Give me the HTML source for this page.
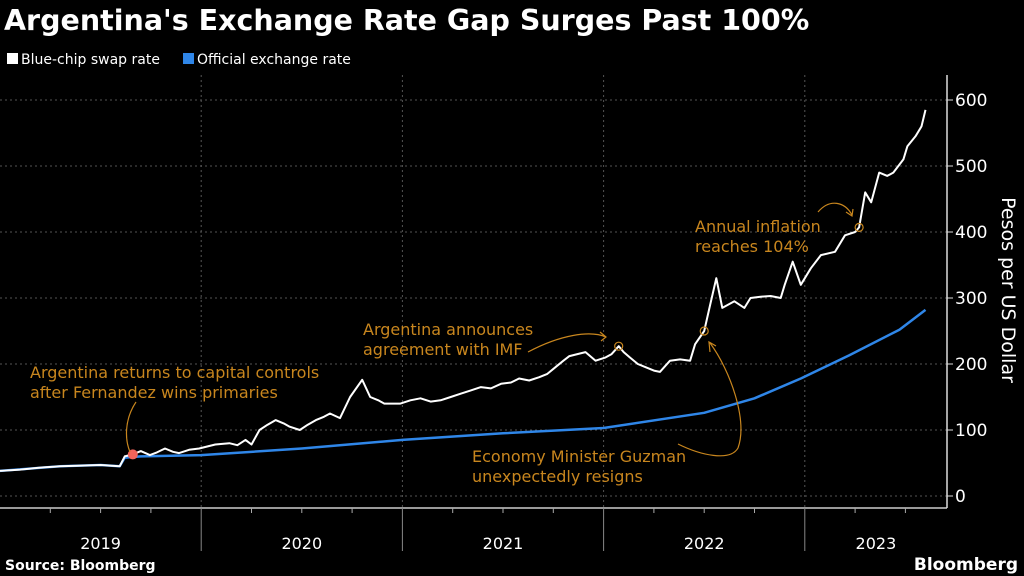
<!DOCTYPE html>
<html><head><meta charset="utf-8"><style>
body{margin:0;background:#000;}
svg{display:block;font-family:"DejaVu Sans","Liberation Sans",sans-serif;}
</style></head><body>
<svg id="chart" width="1024" height="576" viewBox="0 0 1024 576">
<rect width="1024" height="576" fill="#000"/>
<text x="4" y="30" fill="#fff" font-size="28.5" font-weight="bold">Argentina's Exchange Rate Gap Surges Past 100%</text>
<g>
<g><rect x="7" y="53" width="11" height="11" fill="#fff"/><text x="21" y="64" fill="#fff" font-size="14">Blue-chip swap rate</text></g>
<g><rect x="183" y="53" width="11" height="11" fill="#2f86e8"/><text x="197" y="64" fill="#fff" font-size="14">Official exchange rate</text></g>
</g>
<g id="grid"></g>
<g id="xaxis"></g>
<g id="yaxis"></g>
<text transform="translate(1002,290) rotate(90)" text-anchor="middle" fill="#fff" font-size="19">Pesos per US Dollar</text>
<g id="series"></g>
<g fill="#c8861e" font-size="16">
<g><text x="30" y="378">Argentina returns to capital controls</text><text x="30" y="398">after Fernandez wins primaries</text>
<path d="M136,402 C124,420 125,440 130,452" fill="none" stroke="#c8861e" stroke-width="1.2"/></g>
<g><text x="363" y="335">Argentina announces</text><text x="363" y="355">agreement with IMF</text>
<path d="M528,352 C560,335 590,330 606,337 M600,332 L606,337 L601,341" fill="none" stroke="#c8861e" stroke-width="1.2"/></g>
<g><text x="695" y="232">Annual inflation</text><text x="695" y="252">reaches 104%</text>
<path d="M818,212 C830,198 845,202 852,215 M846,212 L852,216 L853,209" fill="none" stroke="#c8861e" stroke-width="1.2"/></g>
<g><text x="472" y="462">Economy Minister Guzman</text><text x="472" y="482">unexpectedly resigns</text>
<path d="M678,444 C700,455 730,462 738,448 C748,420 730,370 710,343 M710,352 L709,342 L716,346" fill="none" stroke="#c8861e" stroke-width="1.2"/></g>
</g>
<text x="5" y="570" fill="#fff" font-size="14" font-weight="bold">Source: Bloomberg</text>
<text x="1018" y="570" text-anchor="end" fill="#fff" font-size="17" font-weight="bold">Bloomberg</text>
</svg>
<script>
const years = ["2019","2020","2021","2022","2023"];
const yTicks = [0,100,200,300,400,500,600];
const blueDates = [2019.0,2019.1,2019.2,2019.3,2019.4,2019.5,2019.595,2019.62,2019.66,2019.7,2019.745,2019.78,2019.82,2019.86,2019.89,2019.94,2019.99,2020.03,2020.07,2020.14,2020.18,2020.22,2020.25,2020.29,2020.33,2020.37,2020.41,2020.44,2020.49,2020.53,2020.57,2020.61,2020.64,2020.69,2020.74,2020.8,2020.84,2020.88,2020.91,2020.99,2021.04,2021.09,2021.14,2021.19,2021.24,2021.29,2021.34,2021.39,2021.44,2021.49,2021.54,2021.58,2021.63,2021.68,2021.72,2021.76,2021.8,2021.83,2021.87,2021.91,
2021.96,2022.01,2022.04,2022.075,2022.1,2022.13,2022.17,2022.21,2022.25,2022.28,2022.33,2022.38,2022.43,2022.455,2022.5,2022.53,2022.56,2022.59,2022.65,2022.70,2022.73,2022.78,2022.83,2022.88,2022.9,2022.94,2022.98,2023.03,2023.08,2023.15,2023.2,2023.25,2023.27,2023.3,2023.33,2023.37,2023.41,2023.44,2023.49,2023.51,2023.55,2023.58,2023.6];
const blueValues = [38,40,43,45,46,47,45,60,63,68,62,66,72,67,65,70,72,75,78,80,77,85,78,100,108,115,110,105,100,108,115,120,125,118,150,176,150,145,140,140,145,148,143,145,150,155,160,165,163,170,172,178,175,180,185,195,205,212,215,218,
205,210,215,227,218,210,200,195,190,188,205,207,205,230,250,290,330,285,295,285,300,302,303,300,320,355,320,345,365,370,395,400,407,460,445,490,485,490,510,530,545,560,585];
const officialDates = [2019.0,2019.3,2019.5,2019.595,2019.62,2019.7,2020.0,2020.5,2021.0,2021.5,2022.0,2022.5,2022.75,2022.98,2023.22,2023.47,2023.6];
const officialValues = [38,45,47,45,58,60,62,72,85,95,103,126,148,178,213,252,282];
const S='http://www.w3.org/2000/svg';
const x=d=>(d-2019)*201.2, y=v=>496-v*0.66;
const grid=document.getElementById('grid'),xa=document.getElementById('xaxis'),ya=document.getElementById('yaxis'),ser=document.getElementById('series');
function mk(tag,attrs,parent){const e=document.createElementNS(S,tag);for(const k in attrs)e.setAttribute(k,attrs[k]);parent.appendChild(e);return e;}
yTicks.forEach(t=>{
 const g=mk('line',{x1:0,x2:947,y1:y(t),y2:y(t),stroke:'#555','stroke-dasharray':'2,3','stroke-width':1},grid);
 
 
 mk('line',{x1:947,x2:953,y1:y(t),y2:y(t),stroke:'#ddd'},ya);
 const tx=mk('text',{x:955,y:y(t)+6,fill:'#fff','font-size':17},ya);tx.textContent=t;
 
 
});
mk('line',{x1:947,x2:947,y1:75,y2:508,stroke:'#ddd','stroke-width':1.5},ya);
mk('line',{x1:0,x2:947,y1:508,y2:508,stroke:'#ccc','stroke-width':1.5},xa);
years.forEach((yr,i)=>{
 const x0=x(2019+i);
 if(i>0){const l=mk('line',{x1:x0,x2:x0,y1:75,y2:508,stroke:'#555','stroke-dasharray':'2,3'},grid);
  
  
  mk('line',{x1:x0,x2:x0,y1:508,y2:551,stroke:'#888'},xa);}
 for(let q=1;q<4;q++){const xq=x(2019+i+q/4);if(xq<947)mk('line',{x1:xq,x2:xq,y1:508,y2:513,stroke:'#aaa'},xa);}
 const c=Math.min(x0+100.6,(x0+947)/2);
 const t=mk('text',{x:c,y:549,fill:'#fff','font-size':16,'text-anchor':'middle'},xa);t.textContent=yr;
 
 
});
function line(ds,vs,col,w,name){
 const p=mk('path',{d:ds.map((d,i)=>(i?'L':'M')+x(d).toFixed(1)+','+y(vs[i]).toFixed(1)).join(''),fill:'none',stroke:col,'stroke-width':w,'stroke-linejoin':'round'},ser);
 
 
}
line(officialDates,officialValues,'#2f86e8',2.5,'official-rate-line');
line(blueDates,blueValues,'#fff',2,'blue-chip-line');
const dot=mk('circle',{cx:x(blueDates[8]),cy:y(blueValues[8]),r:5,fill:'#f2645a'},ser);


[[2022.075,227],[2022.5,250],[2023.27,407]].forEach(([d,v])=>{
 const c=mk('circle',{cx:x(d),cy:y(v),r:4,fill:'none',stroke:'#c8861e','stroke-width':1.2},ser);
 
 
});
</script>
</body></html>
